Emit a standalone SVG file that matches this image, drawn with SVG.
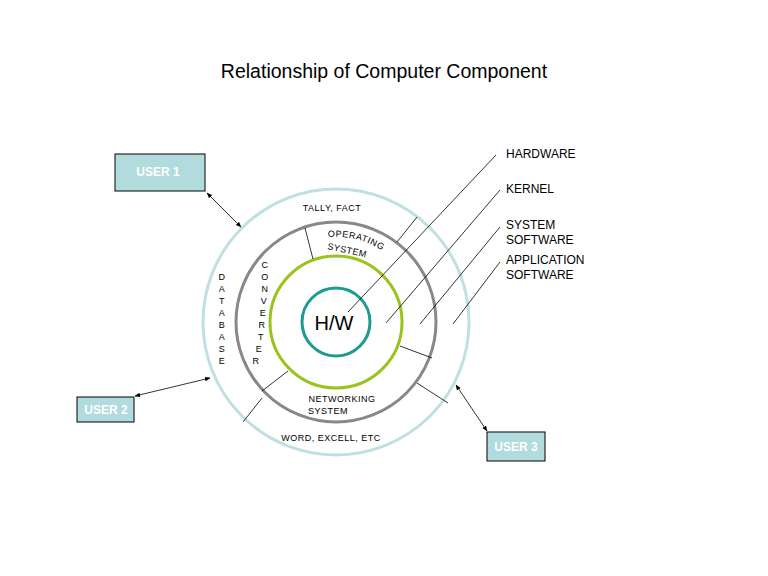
<svg xmlns="http://www.w3.org/2000/svg" width="768" height="576" viewBox="0 0 768 576">
<style>
text{font-family:"Liberation Sans",Arial,sans-serif;fill:#000}
.s{font-size:9px;letter-spacing:0.5px}
.lab{font-size:12px}
.ln{stroke:#000;stroke-width:0.8;fill:none}
.box{fill:#b2dbdd;stroke:#000;stroke-width:1}
.bt{font-size:12px;fill:#fff;font-weight:bold;text-anchor:middle}
</style>
<defs>
<marker id="a" viewBox="0 0 10 10" refX="9" refY="5" markerWidth="7" markerHeight="7" orient="auto-start-reverse"><path d="M0,1 L10,5 L0,9 z" fill="#000"/></marker>
<path id="osarc" d="M328,237 A88,88 0 0 1 390,256"/>
</defs>
<rect width="768" height="576" fill="#fff"/>
<text x="384" y="78" font-size="19.5" text-anchor="middle">Relationship of Computer Component</text>
<g id="rings">
<circle cx="336" cy="322" r="133" fill="none" stroke="#bfe0e2" stroke-width="3"/>
<circle cx="336" cy="322" r="100" fill="none" stroke="#888" stroke-width="3"/>
<circle cx="336" cy="322" r="66" fill="none" stroke="#9ac31c" stroke-width="3"/>
<circle cx="336" cy="322" r="34" fill="none" stroke="#1e9a8e" stroke-width="3"/>
<text x="334" y="330" font-size="20" text-anchor="middle">H/W</text>
</g>
<g id="separators" class="ln">
<line x1="397" y1="242" x2="417" y2="217"/>
<line x1="305" y1="228" x2="313" y2="259"/>
<line x1="400" y1="346" x2="432" y2="358"/>
<line x1="417" y1="383" x2="448" y2="403"/>
<line x1="288" y1="371" x2="262" y2="391"/>
<line x1="262" y1="398" x2="243" y2="422"/>
</g>
<g id="labels-text">
<text class="s" x="332" y="211" text-anchor="middle">TALLY, FACT</text>
<text class="s"><textPath href="#osarc">OPERATING</textPath></text>
<text class="s" x="327" y="249" transform="rotate(12 327 249)">SYSTEM</text>
<text class="s" x="222" y="280" text-anchor="middle">D</text>
<text class="s" x="222" y="292" text-anchor="middle">A</text>
<text class="s" x="222" y="304" text-anchor="middle">T</text>
<text class="s" x="222" y="316" text-anchor="middle">A</text>
<text class="s" x="222" y="328" text-anchor="middle">B</text>
<text class="s" x="222" y="340" text-anchor="middle">A</text>
<text class="s" x="222" y="352" text-anchor="middle">S</text>
<text class="s" x="222" y="364" text-anchor="middle">E</text>
<text class="s" x="265" y="268" text-anchor="middle">C</text>
<text class="s" x="265" y="280" text-anchor="middle">O</text>
<text class="s" x="265" y="292" text-anchor="middle">N</text>
<text class="s" x="264" y="304" text-anchor="middle">V</text>
<text class="s" x="263" y="316" text-anchor="middle">E</text>
<text class="s" x="262" y="328" text-anchor="middle">R</text>
<text class="s" x="261" y="340" text-anchor="middle">T</text>
<text class="s" x="259" y="352" text-anchor="middle">E</text>
<text class="s" x="256" y="364" text-anchor="middle">R</text>
<text class="s" x="342" y="402" text-anchor="middle">NETWORKING</text>
<text class="s" x="328" y="414" text-anchor="middle">SYSTEM</text>
<text class="s" x="331" y="441" text-anchor="middle">WORD, EXCELL, ETC</text>
</g>
<g id="legend">
<text class="lab" x="506" y="158">HARDWARE</text>
<text class="lab" x="506" y="193">KERNEL</text>
<text class="lab" x="506" y="229">SYSTEM</text>
<text class="lab" x="506" y="244">SOFTWARE</text>
<text class="lab" x="506" y="264">APPLICATION</text>
<text class="lab" x="506" y="279">SOFTWARE</text>
</g>
<g id="user1"><rect class="box" x="115" y="154" width="90" height="37"/><text class="bt" x="158" y="176">USER 1</text></g>
<g id="user2"><rect class="box" x="77" y="397" width="57" height="25"/><text class="bt" x="106" y="414">USER 2</text></g>
<g id="user3"><rect class="box" x="487" y="432" width="58" height="29"/><text class="bt" x="516" y="451">USER 3</text></g>
<g id="connectors" class="ln">
<line x1="496" y1="155" x2="348" y2="312"/>
<line x1="500" y1="190" x2="386" y2="323"/>
<line x1="500" y1="227" x2="420" y2="324"/>
<line x1="500" y1="262" x2="453" y2="324"/>
<line x1="207" y1="193" x2="241" y2="227" marker-start="url(#a)" marker-end="url(#a)"/>
<line x1="135" y1="396" x2="210" y2="378" marker-start="url(#a)" marker-end="url(#a)"/>
<line x1="456" y1="385" x2="487" y2="431" marker-start="url(#a)" marker-end="url(#a)"/>
</g>
</svg>
